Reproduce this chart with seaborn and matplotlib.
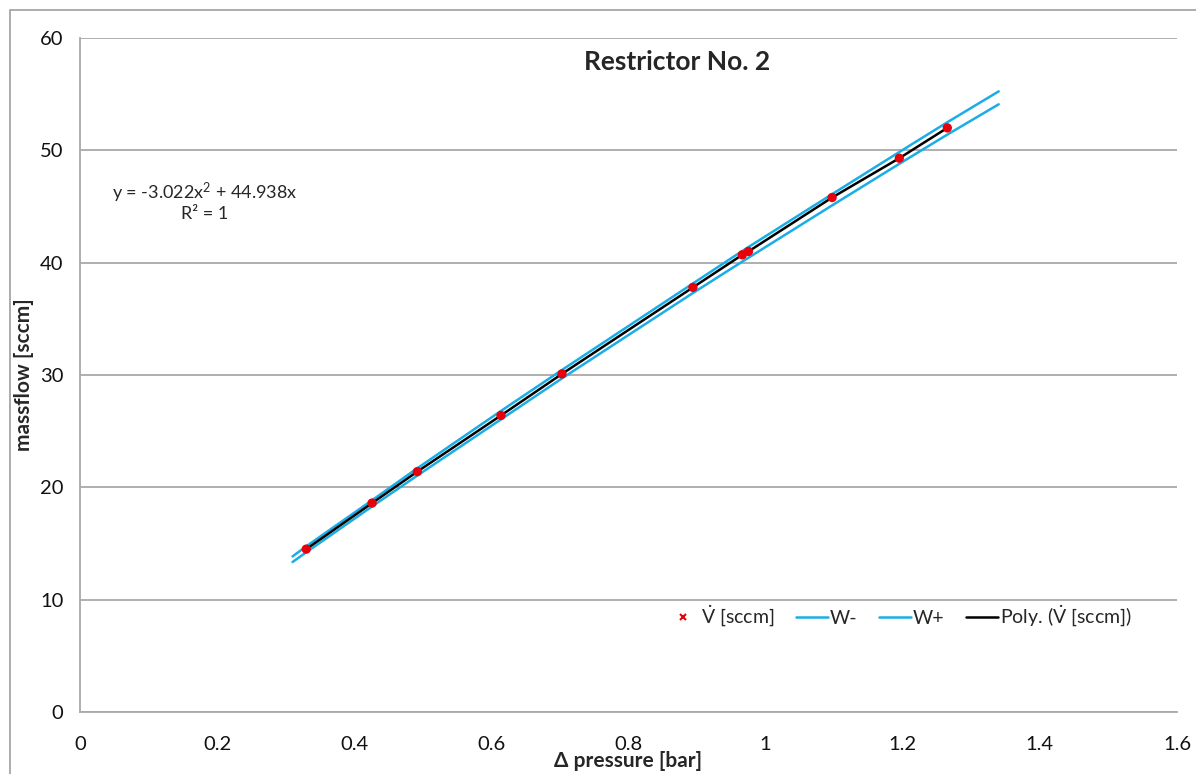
import pandas as pd
import seaborn as sns
import matplotlib.pyplot as plt
from matplotlib.lines import Line2D
from matplotlib.patches import Rectangle
from matplotlib.ticker import FuncFormatter

# measured points
dp = [0.330, 0.426, 0.492, 0.614, 0.703, 0.894, 0.966, 0.975, 1.097, 1.195, 1.265]
flow = [14.5, 18.6, 21.4, 26.4, 30.1, 37.8, 40.7, 41.0, 45.8, 49.3, 52.0]

# tolerance band lines
w_x = [0.31, 0.33, 0.426, 0.492, 0.614, 0.703, 0.894, 0.97, 1.097, 1.195, 1.265, 1.34]
w_minus = [13.35, 14.22, 18.30, 21.05, 26.05, 29.70, 37.30, 40.25, 45.10, 48.80, 51.40, 54.10]
w_plus = [13.85, 14.75, 18.85, 21.70, 26.80, 30.45, 38.15, 41.20, 46.10, 49.85, 52.50, 55.25]

x_ticks = [0, 0.2, 0.4, 0.6, 0.8, 1.0, 1.2, 1.4, 1.6]
y_ticks = [0, 10, 20, 30, 40, 50, 60]

pts = pd.DataFrame({'dp': dp, 'flow': flow})
band = pd.DataFrame({'dp': w_x, 'W-': w_minus, 'W+': w_plus})

sns.set_style('white')
plt.rcParams['font.family'] = ['Lato', 'DejaVu Sans']
plt.rcParams['mathtext.fontset'] = 'custom'
plt.rcParams['mathtext.rm'] = 'Lato'
plt.rcParams['mathtext.it'] = 'Lato'

fig = plt.figure(figsize=(11.96, 7.74), dpi=100)
ax = fig.add_axes([0.0669, 0.0801, 0.9172, 0.8708])

blue = '#1aade6'
grid_c = '#a9a9a9'

sns.lineplot(data=band, x='dp', y='W-', color=blue, lw=1.8, ax=ax, estimator=None)
sns.lineplot(data=band, x='dp', y='W+', color=blue, lw=1.8, ax=ax, estimator=None)
sns.lineplot(data=pts, x='dp', y='flow', color='black', lw=1.8, ax=ax, estimator=None)
sns.scatterplot(data=pts, x='dp', y='flow', color='#e8000b', s=45, edgecolor='none', ax=ax, zorder=5)

ax.set_xlim(0, 1.6)
ax.set_ylim(0, 60)
ax.set_xticks(x_ticks)
ax.set_yticks(y_ticks)
ax.xaxis.set_major_formatter(FuncFormatter(lambda v, p: f'{v:g}'))
ax.yaxis.grid(True, color=grid_c, lw=1.3)
ax.xaxis.grid(False)
for s in ['top', 'right']:
    ax.spines[s].set_visible(False)
for s in ['left', 'bottom']:
    ax.spines[s].set_color(grid_c)
    ax.spines[s].set_linewidth(1.3)
ax.tick_params(axis='both', direction='out', length=6, width=1.3, color=grid_c,
               labelsize=14.5, labelcolor='#111111')
ax.tick_params(axis='x', pad=11)
ax.tick_params(axis='y', pad=6)

ax.set_xlabel('\u0394 pressure [bar]', fontsize=15, fontweight='bold', labelpad=-1)
ax.set_ylabel('massflow [sccm]', fontsize=15, fontweight='bold', labelpad=4)

ax.text(0.871, 57.9, 'Restrictor No. 2', fontsize=19, fontweight='bold',
        ha='center', va='center')
ax.text(0.182, 46.2, 'y = -3.022x$^2$ + 44.938x', fontsize=13, ha='center', va='center')
ax.text(0.182, 44.3, 'R\u00b2 = 1', fontsize=13, ha='center', va='center')

vdot = r'$\dot{\mathrm{V}}$'
handles = [
    Line2D([], [], ls='none', marker='x', color='#e8000b', markersize=4, mew=1.5),
    Line2D([], [], color=blue, lw=1.8),
    Line2D([], [], color=blue, lw=1.8),
    Line2D([], [], color='black', lw=1.8),
]
labels = [vdot + ' [sccm]', 'W-', 'W+', 'Poly. (' + vdot + ' [sccm])']
ax.legend(handles, labels, loc='center right', bbox_to_anchor=(0.975, 0.142),
          ncol=4, frameon=False, fontsize=14, handlelength=1.65,
          handletextpad=0.1, columnspacing=1.1)

# chart area border
fig.patches.append(Rectangle((10 / 1196, -0.05), 1.2, 1 - 10 / 774 + 0.05,
                             transform=fig.transFigure, fill=False,
                             edgecolor='#a6a6a6', lw=1.3, zorder=-1))

fig.savefig('out.png', dpi=100)
